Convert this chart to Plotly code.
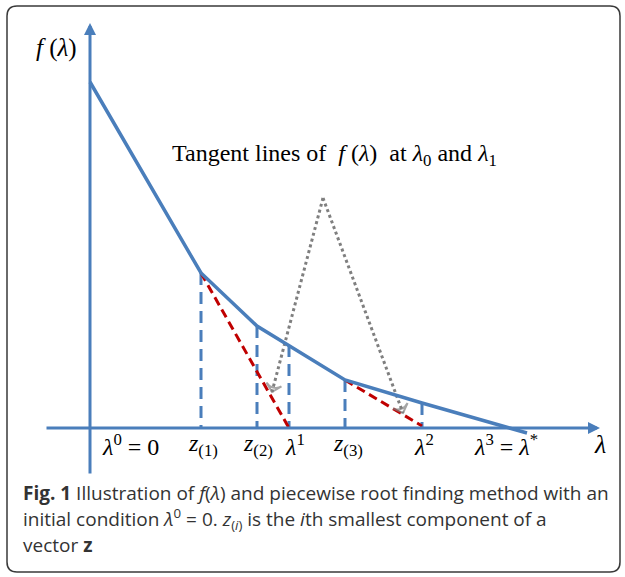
import plotly.graph_objects as go

# ---- data (chart units: lambda on x, f(lambda) on y) ----
lam_knots = [0, 11.1, 16.7, 25.5, 33.2, 43.7]
f_knots = [34.6, 15.5, 10.2, 4.8, 2.5, -0.5]

drop_x = [11.1, 16.7, 19.9, 25.5, 33.2]
drop_top = [15.5, 10.2, 8.3, 4.8, 2.5]

tangent1_x = [11.1, 19.9]
tangent1_y = [15.5, 0.0]
tangent2_x = [25.5, 33.2]
tangent2_y = [4.8, 0.2]

gray_left_x = [23.3, 18.2]
gray_left_y = [23.0, 3.6]
gray_right_x = [23.3, 31.3]
gray_right_y = [23.0, 1.5]

tick_pos = [4.0, 11.3, 16.8, 20.5, 25.8, 33.4, 41.6]
tick_labels = [
    "<i>λ</i><sup>0</sup> = 0",
    "<i>z</i><sub>(1)</sub>",
    "<i>z</i><sub>(2)</sub>",
    "<i>λ</i><sup>1</sup>",
    "<i>z</i><sub>(3)</sub>",
    "<i>λ</i><sup>2</sup>",
    "<i>λ</i><sup>3</sup> = <i>λ</i><sup>*</sup>",
]

BLUE = "#4A7EBB"
RED = "#C00000"
GRAY = "#7F7F7F"
SERIF = "Liberation Serif"

fig = go.Figure()

# blue dashed drop lines
for x, top in zip(drop_x, drop_top):
    fig.add_trace(go.Scatter(x=[x, x], y=[top, 0], mode="lines",
                             line=dict(color=BLUE, width=3, dash="12px,7px"),
                             hoverinfo="skip", showlegend=False))

# red dashed tangent lines
for tx, ty in [(tangent1_x, tangent1_y), (tangent2_x, tangent2_y)]:
    fig.add_trace(go.Scatter(x=tx, y=ty, mode="lines",
                             line=dict(color=RED, width=3, dash="9px,5px"),
                             hoverinfo="skip", showlegend=False))

# gray dotted arrows
for gx, gy in [(gray_left_x, gray_left_y), (gray_right_x, gray_right_y)]:
    fig.add_trace(go.Scatter(x=gx, y=gy, mode="lines+markers",
                             line=dict(color=GRAY, width=3, dash="3px,3px"),
                             marker=dict(symbol=["circle", "arrow-wide-open"],
                                         size=[0, 11], angleref="previous",
                                         color=GRAY, line=dict(color=GRAY, width=2)),
                             hoverinfo="skip", showlegend=False))

# f(lambda) piecewise curve
fig.add_trace(go.Scatter(x=lam_knots, y=f_knots, mode="lines",
                         line=dict(color=BLUE, width=3.5),
                         hoverinfo="skip", showlegend=False))

annotations = []
# axes with arrowheads
annotations.append(dict(x=51.0, y=0, ax=-4.5, ay=0, xref="x", yref="y", axref="x", ayref="y",
                        text="", showarrow=True, arrowhead=2, arrowsize=0.8,
                        arrowwidth=3, arrowcolor=BLUE))
annotations.append(dict(x=0, y=40.5, ax=0, ay=-4.7, xref="x", yref="y", axref="x", ayref="y",
                        text="", showarrow=True, arrowhead=2, arrowsize=0.8,
                        arrowwidth=3, arrowcolor=BLUE))

for p, t in zip(tick_pos, tick_labels):
    annotations.append(dict(x=p, y=-1.7, xref="x", yref="y", text=t, showarrow=False,
                            font=dict(family=SERIF, size=24, color="black"),
                            xanchor="center", yanchor="middle"))

annotations.append(dict(x=51.0, y=-1.6, xref="x", yref="y", text="<i>λ</i>", showarrow=False,
                        font=dict(family=SERIF, size=26, color="black"),
                        xanchor="center", yanchor="middle"))
annotations.append(dict(x=-3.4, y=38.0, xref="x", yref="y", text="<i>f</i> (<i>λ</i>)",
                        showarrow=False, font=dict(family=SERIF, size=25, color="black"),
                        xanchor="center", yanchor="middle"))
annotations.append(dict(x=24.4, y=27.3, xref="x", yref="y",
                        text="Tangent lines of  <i>f</i> (<i>λ</i>)  at <i>λ</i><sub>0</sub> and <i>λ</i><sub>1</sub>",
                        showarrow=False, font=dict(family=SERIF, size=24, color="black"),
                        xanchor="center", yanchor="middle"))

# caption
CAP = "Open Sans"
cap_lines = [
    "<b>Fig. 1</b> Illustration of <i>f</i>(<i>λ</i>) and piecewise root finding method with an",
    "initial condition <i>λ</i><sup>0</sup> = 0. <i>z</i><sub>(<i>i</i>)</sub> is the <i>i</i>th smallest component of a",
    "vector <b>z</b>",
]
cap_y = [493, 519, 545]
for line, py in zip(cap_lines, cap_y):
    annotations.append(dict(x=21 / 625, y=1 - py / 577, xref="paper", yref="paper",
                            text=line, showarrow=False,
                            font=dict(family=CAP, size=19, color="#333333"),
                            xanchor="left", yanchor="middle"))

# rounded frame
x0, x1 = 7 / 625, 620 / 625
y0, y1 = 1 - 572 / 577, 1 - 6 / 577
rx, ry = 10 / 625, 10 / 577
path = (f"M{x0 + rx},{y1} L{x1 - rx},{y1} Q{x1},{y1} {x1},{y1 - ry} "
        f"L{x1},{y0 + ry} Q{x1},{y0} {x1 - rx},{y0} L{x0 + rx},{y0} "
        f"Q{x0},{y0} {x0},{y0 + ry} L{x0},{y1 - ry} Q{x0},{y1} {x0 + rx},{y1} Z")

fig.update_layout(
    width=625, height=577,
    margin=dict(l=0, r=0, t=0, b=0),
    paper_bgcolor="white", plot_bgcolor="white",
    xaxis=dict(range=[-9, 53.5], visible=False, fixedrange=True),
    yaxis=dict(range=[-14.9, 42.8], visible=False, fixedrange=True),
    annotations=annotations,
    shapes=[dict(type="path", xref="paper", yref="paper", path=path,
                 line=dict(color="#3a3a3a", width=1.5))],
    showlegend=False,
)

fig.write_html("out.html", config={"displayModeBar": False},
               post_script="document.body.style.margin='0';")
